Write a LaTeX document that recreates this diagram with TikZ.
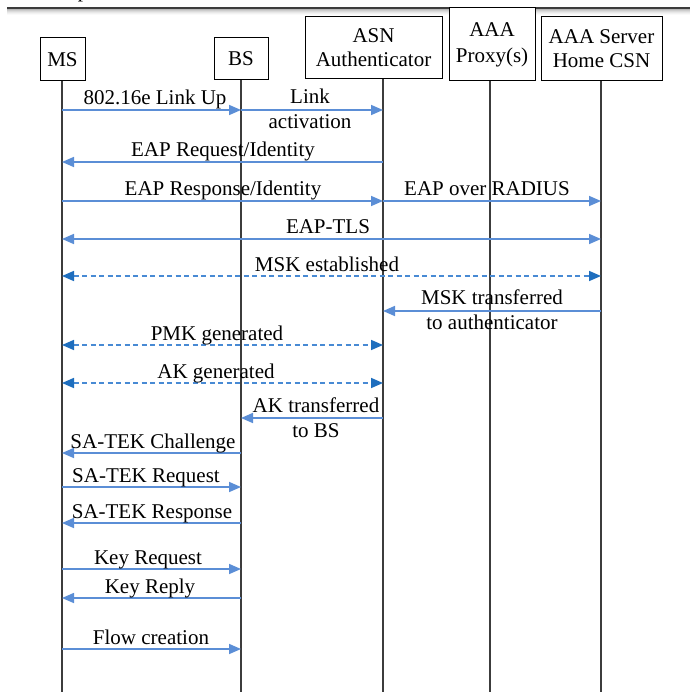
\documentclass[tikz,border=0pt]{standalone}
\usepackage{fontspec}
\setmainfont{Liberation Serif}
\usetikzlibrary{arrows.meta}
\definecolor{msgblue}{RGB}{91,142,214}
\definecolor{dashblue}{RGB}{72,138,212}
\definecolor{tipdark}{RGB}{30,110,190}
\definecolor{lifegray}{RGB}{60,60,60}
\begin{document}
\begin{tikzpicture}[x=1pt,y=-1pt,
  actor/.style={draw=black, line width=1pt, fill=white, align=center, inner sep=0pt, font=\fontsize{21}{24}\selectfont},
  life/.style={draw=lifegray, line width=1.1pt},
  tipA/.style={},
  msg/.style={draw=msgblue, line width=1.6pt, -{Triangle[length=12pt,width=10pt]}},
  msgboth/.style={draw=msgblue, line width=1.6pt, {Triangle[length=12pt,width=10pt]}-{Triangle[length=12pt,width=10pt]}},
  dmsg/.style={draw=dashblue, line width=1.6pt, dash pattern=on 5pt off 3.5pt, {Triangle[length=12pt,width=10pt,color=tipdark]}-{Triangle[length=12pt,width=10pt,color=tipdark]}},
  lbl/.style={anchor=base, inner sep=0pt, font=\fontsize{21}{25}\selectfont}]
\useasboundingbox (0,0) rectangle (690,692);
\fill[white] (0,0) rectangle (690,692);
% cropped caption fragment and rule
\node[lbl] (frag) at (83,-2) {p};
\draw[draw=lifegray, line width=1.2pt] (7,8) -- (690,8);
\foreach \yy/\cc in {9.6/28,10.6/20,11.6/14,12.6/9,13.6/5,14.6/2}
  \draw[draw=black!\cc, line width=1pt] (7,\yy) -- (690,\yy);
% actors
\node[actor, minimum width=45pt, minimum height=43pt] (ms) at (62.5,59.5) {MS};
\node[actor, minimum width=54pt, minimum height=42pt] (bs) at (241,59) {BS};
\node[actor, minimum width=137pt, minimum height=62pt] (asn) at (373.5,48) {ASN\\Authenticator};
\node[actor, minimum width=86pt, minimum height=73pt, font=\fontsize{21}{26}\selectfont] (aaa) at (492,44.5) {AAA\\Proxy(s)};
\node[actor, minimum width=121pt, minimum height=64pt] (srv) at (601.5,49) {AAA Server\\Home CSN};
% lifelines
\coordinate (lms) at (62,692);
\coordinate (lbs) at (241,692);
\coordinate (lasn) at (383,692);
\coordinate (laaa) at (490,692);
\coordinate (lsrv) at (601,692);
\draw[life] (ms.south -| lms) -- (lms);
\draw[life] (bs.south -| lbs) -- (lbs);
\draw[life] (asn.south -| lasn) -- (lasn);
\draw[life] (aaa.south -| laaa) -- (laaa);
\draw[life] (srv.south -| lsrv) -- (lsrv);
% messages
\draw[msg] (lms |- 0,110) -- (lbs |- 0,110);
\node[lbl] (m1) at (155,105) {802.16e Link Up};
\draw[msg] (lbs |- 0,110) -- (lasn |- 0,110);
\node[lbl] (m2) at (310,104) {\begin{tabular}[t]{@{}c@{}}Link\\activation\end{tabular}};
\draw[msg] (lasn |- 0,162) -- (lms |- 0,162);
\node[lbl] (m3) at (223,157) {EAP Request/Identity};
\draw[msg] (lms |- 0,201) -- (lasn |- 0,201);
\node[lbl] (m4) at (223,196) {EAP Response/Identity};
\draw[msg] (lasn |- 0,201) -- (lsrv |- 0,201);
\node[lbl] (m5) at (487,196) {EAP over RADIUS};
\draw[msgboth] (lms |- 0,239) -- (lsrv |- 0,239);
\node[lbl] (m6) at (328,234) {EAP-TLS};
\draw[dmsg] (lms |- 0,276) -- (lsrv |- 0,276);
\node[lbl] (m7) at (327,271) {MSK established};
\draw[msg] (lsrv |- 0,311) -- (lasn |- 0,311);
\node[lbl] (m8) at (492,304) {\begin{tabular}[t]{@{}c@{}}MSK transferred\\to authenticator\end{tabular}};
\draw[dmsg] (lms |- 0,345) -- (lasn |- 0,345);
\node[lbl] (m9) at (217,340) {PMK generated};
\draw[dmsg] (lms |- 0,383) -- (lasn |- 0,383);
\node[lbl] (m10) at (216,378) {AK generated};
\draw[msg] (lasn |- 0,418) -- (lbs |- 0,418);
\node[lbl] (m11) at (316,412) {\begin{tabular}[t]{@{}c@{}}AK transferred\\to BS\end{tabular}};
\draw[msg] (lbs |- 0,453) -- (lms |- 0,453);
\node[lbl] (m12) at (153,448) {SA-TEK Challenge};
\draw[msg] (lms |- 0,487) -- (lbs |- 0,487);
\node[lbl] (m13) at (146,482) {SA-TEK Request};
\draw[msg] (lbs |- 0,523) -- (lms |- 0,523);
\node[lbl] (m14) at (152,518) {SA-TEK Response};
\draw[msg] (lms |- 0,569) -- (lbs |- 0,569);
\node[lbl] (m15) at (148,564) {Key Request};
\draw[msg] (lbs |- 0,598) -- (lms |- 0,598);
\node[lbl] (m16) at (150,593) {Key Reply};
\draw[msg] (lms |- 0,649) -- (lbs |- 0,649);
\node[lbl] (m17) at (151,644) {Flow creation};
\end{tikzpicture}
\end{document}
